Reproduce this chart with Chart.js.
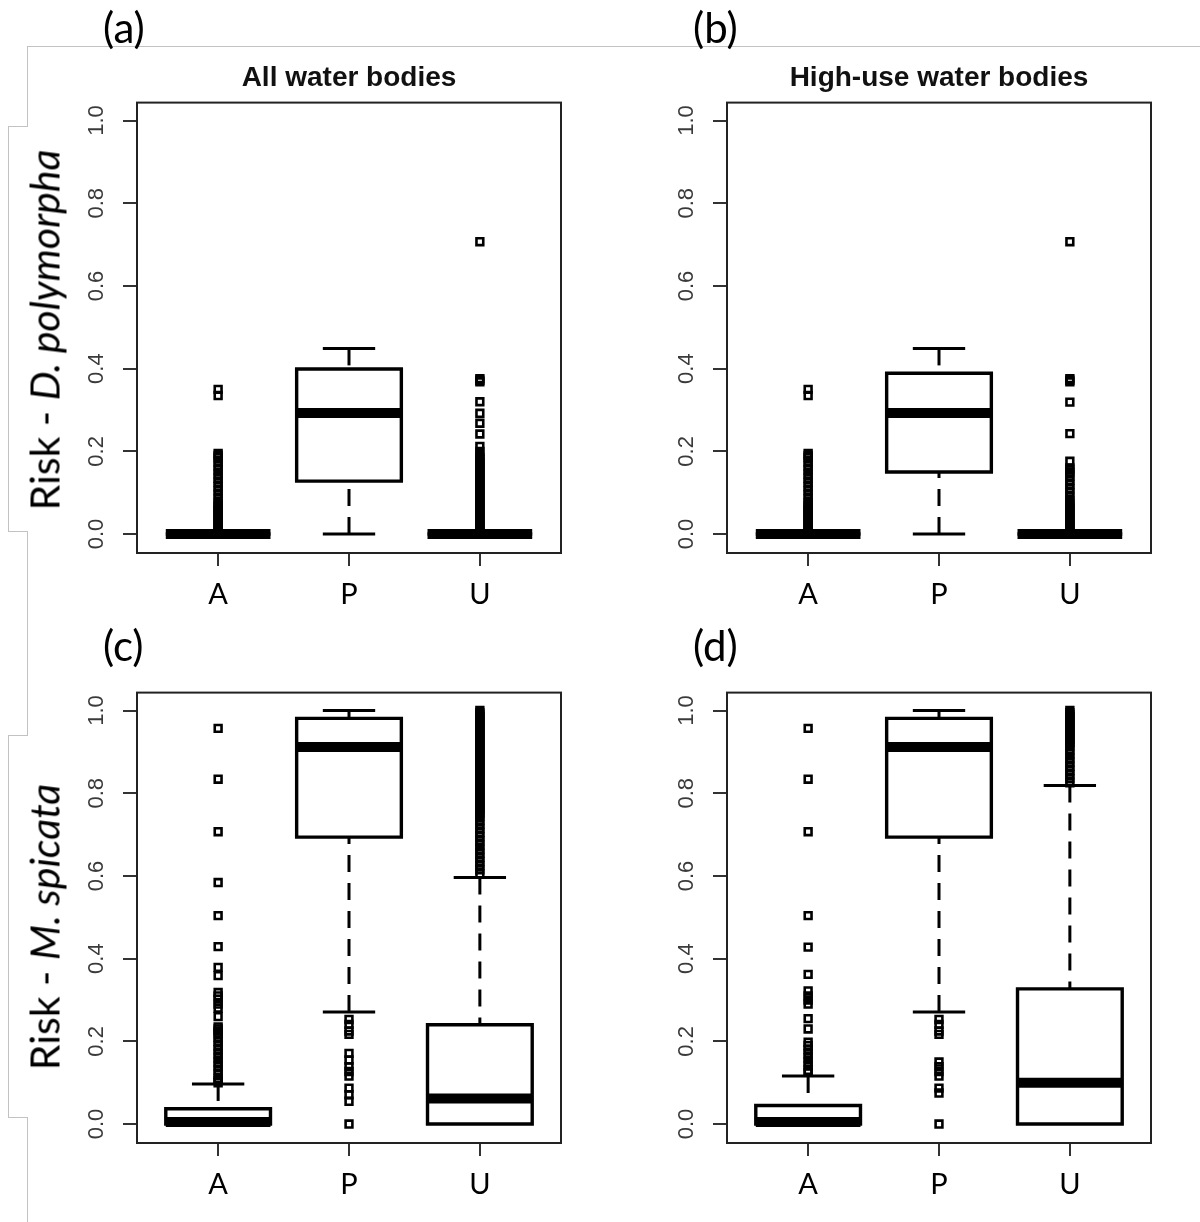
<!DOCTYPE html>
<html><head><meta charset="utf-8">
<script src="https://cdn.jsdelivr.net/npm/chart.js@4.4.1/dist/chart.umd.min.js"></script>
<style>
html,body{margin:0;padding:0;background:#fff;}
#wrap{position:relative;width:1200px;height:1222px;overflow:hidden;background:#fff;}
.cv{position:absolute;width:600px;height:570px;}
.plab{position:absolute;font-family:Lato,'Open Sans',sans-serif;font-size:42px;color:#000;line-height:1;white-space:nowrap;}
.ytitle{position:absolute;font-family:Lato,'Open Sans',sans-serif;font-size:41px;color:#000;white-space:nowrap;line-height:1;transform:translate(-50%,-50%) rotate(-90deg);}
.gl{position:absolute;background:#c2c2c2;}
</style></head>
<body><div id="wrap">
<div class="gl" style="left:27px;top:46px;width:1173px;height:1px"></div>
<div class="gl" style="left:27px;top:46px;width:1px;height:80px"></div>
<div class="gl" style="left:8px;top:126px;width:20px;height:1px"></div>
<div class="gl" style="left:8px;top:126px;width:1px;height:405px"></div>
<div class="gl" style="left:8px;top:531px;width:20px;height:1px"></div>
<div class="gl" style="left:27px;top:531px;width:1px;height:204px"></div>
<div class="gl" style="left:8px;top:735px;width:20px;height:1px"></div>
<div class="gl" style="left:8px;top:735px;width:1px;height:382px"></div>
<div class="gl" style="left:8px;top:1117px;width:20px;height:1px"></div>
<div class="gl" style="left:27px;top:1117px;width:1px;height:105px"></div>

<div class="cv" style="left:0;top:50px"><canvas id="c0" width="600" height="570"></canvas></div>
<div class="cv" style="left:590px;top:50px"><canvas id="c1" width="600" height="570"></canvas></div>
<div class="cv" style="left:0;top:640px"><canvas id="c2" width="600" height="570"></canvas></div>
<div class="cv" style="left:590px;top:640px"><canvas id="c3" width="600" height="570"></canvas></div>

<div class="plab" id="t0" style="left:103px;top:6px"></div>
<div class="plab" id="t1" style="left:693px;top:6px"></div>
<div class="plab" id="t2" style="left:103px;top:624px"></div>
<div class="plab" id="t3" style="left:693px;top:624px"></div>
<div class="ytitle" id="r0" style="left:44px;top:330px"></div>
<div class="ytitle" id="r1" style="left:44px;top:927px"></div>
</div>
<script>
// ---------- data ----------
const categories = ['A', 'P', 'U'];
const yTickValues = [0, 0.2, 0.4, 0.6, 0.8, 1.0];
const yTickLabels = ['0.0', '0.2', '0.4', '0.6', '0.8', '1.0'];
const panelTags = ['(a)', '(b)', '(c)', '(d)'];
const panelTitles = ['All water bodies', 'High-use water bodies', '', ''];
const rowTitlePlain = ['Risk - ', 'Risk - '];
const rowTitleItalic = ['D. polymorpha', 'M. spicata'];

// box statistics per category A, P, U: [lower whisker, Q1, median, Q3, upper whisker]
const dpAllStats  = [[0, 0, 0, 0, 0], [0, 0.128, 0.293, 0.399, 0.449], [0, 0, 0, 0, 0]];
const dpHighStats = [[0, 0, 0, 0, 0], [0, 0.150, 0.293, 0.389, 0.449], [0, 0, 0, 0, 0]];
const msAllStats  = [[0, 0, 0.005, 0.037, 0.097], [0.271, 0.694, 0.912, 0.981, 1.0], [0, 0, 0.062, 0.240, 0.596]];
const msHighStats = [[0, 0, 0.005, 0.045, 0.116], [0.271, 0.694, 0.912, 0.981, 1.0], [0, 0, 0.100, 0.327, 0.819]];

// outliers (a) All water bodies - D. polymorpha
const dpAllOutA = [0.005,0.01,0.015,0.02,0.025,0.03,0.035,0.04,0.045,0.05,0.055,0.06,0.065,0.07,0.075,0.085,0.095,0.105,0.115,0.125,0.135,0.145,0.155,0.165,0.175,0.185,0.19,0.195,0.335,0.35];
const dpAllOutP = [];
const dpAllOutU = [0.005,0.01,0.015,0.02,0.025,0.03,0.035,0.04,0.045,0.05,0.055,0.06,0.065,0.07,0.075,0.08,0.085,0.09,0.095,0.1,0.105,0.11,0.115,0.12,0.125,0.13,0.135,0.14,0.145,0.15,0.155,0.16,0.165,0.17,0.175,0.18,0.185,0.19,0.2,0.212,0.242,0.268,0.292,0.32,0.368,0.372,0.376,0.707];
// outliers (b) High-use water bodies - D. polymorpha
const dpHighOutA = [0.005,0.01,0.015,0.02,0.025,0.03,0.035,0.04,0.045,0.05,0.055,0.06,0.065,0.07,0.075,0.085,0.095,0.105,0.115,0.125,0.135,0.145,0.155,0.165,0.175,0.185,0.19,0.195,0.335,0.35];
const dpHighOutP = [];
const dpHighOutU = [0.005,0.01,0.015,0.02,0.025,0.03,0.035,0.04,0.045,0.05,0.055,0.06,0.065,0.07,0.075,0.08,0.09,0.1,0.11,0.12,0.13,0.14,0.15,0.155,0.16,0.176,0.243,0.319,0.368,0.372,0.376,0.707];
// outliers (c) All water bodies - M. spicata
const msAllOutA = [0.957,0.834,0.707,0.584,0.504,0.429,0.379,0.359,0.318,0.31,0.302,0.29,0.28,0.26,0.235,0.23,0.225,0.22,0.21,0.2,0.19,0.18,0.17,0.16,0.15,0.14,0.13,0.12,0.11,0.105,0.1];
const msAllOutP = [0.253,0.241,0.225,0.217,0.171,0.155,0.139,0.127,0.116,0.087,0.071,0.055,0];
const msAllOutU = [0.605,0.615,0.625,0.635,0.645,0.655,0.665,0.675,0.685,0.695,0.705,0.715,0.725,0.735,0.745,0.75,0.755,0.76,0.765,0.77,0.775,0.78,0.785,0.79,0.795,0.8,0.805,0.81,0.815,0.82,0.825,0.83,0.835,0.84,0.845,0.85,0.855,0.86,0.865,0.87,0.875,0.88,0.885,0.89,0.895,0.9,0.905,0.91,0.915,0.92,0.925,0.93,0.935,0.94,0.945,0.95,0.955,0.96,0.965,0.97,0.975,0.98,0.985,0.99,0.995,1.0];
// outliers (d) High-use water bodies - M. spicata
const msHighOutA = [0.957,0.834,0.707,0.504,0.428,0.362,0.322,0.31,0.3,0.29,0.255,0.23,0.198,0.19,0.18,0.17,0.16,0.15,0.14,0.13,0.125];
const msHighOutP = [0.253,0.241,0.225,0.217,0.15,0.139,0.127,0.116,0.087,0.075,0];
const msHighOutU = [0.825,0.835,0.845,0.855,0.865,0.875,0.885,0.895,0.905,0.915,0.92,0.925,0.93,0.935,0.94,0.945,0.95,0.955,0.96,0.965,0.97,0.975,0.98,0.985,0.99,0.995,1.0];

// ---------- drawing ----------
const X_MIN = 0.38, X_MAX = 3.62;       // R style 4% extension around 0.5..3.5
const Y_MIN = -0.0458, Y_MAX = 1.0434;
const BOX_HALF = 0.4, STAPLE_HALF = 0.2;

Chart.defaults.font.family = "'Liberation Sans', Arial, sans-serif";

const framePlugin = {
  id: 'frame',
  afterDatasetsDraw(chart) {
    const {ctx, chartArea: a} = chart;
    ctx.save();
    ctx.strokeStyle = '#222';
    ctx.lineWidth = 2;
    ctx.strokeRect(a.left, a.top, a.right - a.left, a.bottom - a.top);
    ctx.restore();
  }
};

function lineDs(pts, width, dash, cap) {
  return {data: pts, showLine: true, borderColor: '#000', borderWidth: width,
          borderDash: dash || [], borderCapStyle: cap || 'butt', borderJoinStyle: 'miter',
          pointRadius: 0, pointHoverRadius: 0, fill: false, tension: 0, order: 1, clip: false};
}

function makePanel(idx, stats, outliers) {
  const datasets = [];
  // outliers: open squares (R pch = 0), drawn on top
  categories.forEach((c, i) => {
    const x = i + 1;
    datasets.push({data: outliers[i].map(v => ({x: x, y: v})), showLine: false,
      pointStyle: 'rect', pointRadius: 4.8, pointHoverRadius: 4.8, pointBorderWidth: 2.6,
      pointBorderColor: '#000', pointBackgroundColor: 'rgba(0,0,0,0)', order: 0});
  });
  categories.forEach((c, i) => {
    const x = i + 1;
    const [lo, q1, med, q3, hi] = stats[i];
    const L = x - BOX_HALF, R = x + BOX_HALF;
    // median (thick)
    datasets.push(lineDs([{x: L, y: med}, {x: R, y: med}], 10));
    // box as one closed outline (dash pattern without gaps keeps the plain path renderer)
    datasets.push(lineDs([{x: L, y: q1}, {x: R, y: q1}, {x: R, y: q3}, {x: L, y: q3}, {x: L, y: q1}, {x: R, y: q1}],
                         3.4, [2000, 0], 'butt'));
    // whiskers (dashed, drawn from whisker end towards the box) and staples
    if (hi > q3) {
      datasets.push(lineDs([{x: x, y: hi}, {x: x, y: q3}], 3, [17, 11]));
      datasets.push(lineDs([{x: x - STAPLE_HALF, y: hi}, {x: x + STAPLE_HALF, y: hi}], 3));
    }
    if (lo < q1) {
      datasets.push(lineDs([{x: x, y: lo}, {x: x, y: q1}], 3, [17, 11]));
      datasets.push(lineDs([{x: x - STAPLE_HALF, y: lo}, {x: x + STAPLE_HALF, y: lo}], 3));
    }
  });

  const hasTitle = panelTitles[idx] !== '';
  new Chart(document.getElementById('c' + idx), {
    type: 'scatter',
    data: {datasets},
    plugins: [framePlugin],
    options: {
      responsive: false, animation: false, events: [],
      layout: {padding: {left: 0, right: 39, top: hasTitle ? 0 : 52.6, bottom: 0}},
      plugins: {
        legend: {display: false}, tooltip: {enabled: false},
        title: {display: hasTitle, text: panelTitles[idx], fullSize: false, color: '#111',
                font: {family: "'Liberation Sans', Arial, sans-serif", weight: 'bold', size: 28},
                padding: {top: 11, bottom: 8}}
      },
      scales: {
        x: {
          type: 'linear', min: X_MIN, max: X_MAX,
          afterBuildTicks: s => { s.ticks = categories.map((c, i) => ({value: i + 1})); },
          afterFit: s => { s.height = 67; },
          ticks: {callback: (v, i) => categories[i], autoSkip: false, maxRotation: 0, minRotation: 0,
                  color: '#000', font: {family: "Lato, 'Open Sans', sans-serif", size: 29}, padding: 11},
          grid: {drawOnChartArea: false, tickLength: 13, color: '#333', lineWidth: 2},
          border: {display: false}
        },
        y: {
          type: 'linear', min: Y_MIN, max: Y_MAX,
          afterBuildTicks: s => { s.ticks = yTickValues.map(v => ({value: v})); },
          afterFit: s => { s.width = 137; },
          ticks: {callback: (v, i) => yTickLabels[i], autoSkip: false, minRotation: 90, maxRotation: 90,
                  crossAlign: 'center', color: '#3a3a3a', font: {size: 22}, padding: 11},
          grid: {drawOnChartArea: false, tickLength: 14, color: '#333', lineWidth: 2},
          border: {display: false}
        }
      }
    }
  });
}

makePanel(0, dpAllStats, [dpAllOutA, dpAllOutP, dpAllOutU]);
makePanel(1, dpHighStats, [dpHighOutA, dpHighOutP, dpHighOutU]);
makePanel(2, msAllStats, [msAllOutA, msAllOutP, msAllOutU]);
makePanel(3, msHighStats, [msHighOutA, msHighOutP, msHighOutU]);

panelTags.forEach((t, i) => { document.getElementById('t' + i).textContent = t; });
rowTitlePlain.forEach((t, i) => {
  const el = document.getElementById('r' + i);
  el.appendChild(document.createTextNode(t));
  const it = document.createElement('i');
  it.textContent = rowTitleItalic[i];
  el.appendChild(it);
});
</script>
</body></html>
